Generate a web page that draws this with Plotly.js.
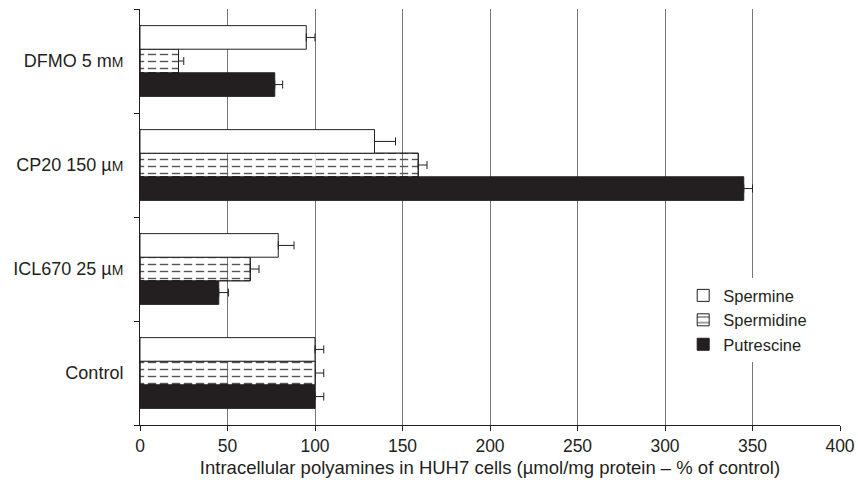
<!DOCTYPE html>
<html><head><meta charset="utf-8">
<script src="https://cdn.plot.ly/plotly-3.0.1.min.js"></script>
<style>body{margin:0;background:#fff}#c{width:858px;height:488px}</style>
</head><body><div id="c"></div>
<script>
const categories = ['Control', 'ICL670 25 µ<span style="font-size:14px">M</span>', 'CP20 150 µ<span style="font-size:14px">M</span>', 'DFMO 5 m<span style="font-size:14px">M</span>'];
const putrescine = [100, 45, 345, 77];
const putrescineErr = [5, 5.5, 5, 4.5];
const spermidine = [100, 63, 159, 22];
const spermidineErr = [5, 5, 5, 3];
const spermine = [100, 79, 134, 95];
const spermineErr = [5, 9, 12, 5];
const xTicks = [0, 50, 100, 150, 200, 250, 300, 350, 400];

const ink = '#231f20';
const clear = 'rgba(0,0,0,0)';
function errs(a){return {type:'data', symmetric:false, array:a, arrayminus:a.map(()=>0), color:ink, thickness:1, width:4};}
const traces = [
  {type:'bar', orientation:'h', name:'Putrescine', offsetgroup:'a', y:categories, x:putrescine, error_x:errs(putrescineErr),
   marker:{color:ink, line:{color:ink, width:1}}},
  {type:'bar', orientation:'h', name:'Spermidine', offsetgroup:'b', y:categories, x:spermidine, error_x:errs(spermidineErr),
   marker:{color:clear, line:{color:ink, width:1}, pattern:{shape:'-', fgcolor:'#555', bgcolor:clear, fillmode:'replace', size:7, solidity:0.2}}},
  {type:'bar', orientation:'h', name:'Spermidine dashes', offsetgroup:'b', showlegend:false, y:categories, x:spermidine,
   marker:{color:clear, line:{color:ink, width:1}, pattern:{shape:'|', fgcolor:'#ffffff', bgcolor:clear, fillmode:'replace', size:12, solidity:0.3}}},
  {type:'bar', orientation:'h', name:'Spermine', offsetgroup:'c', y:categories, x:spermine, error_x:errs(spermineErr),
   marker:{color:'#ffffff', line:{color:ink, width:1}}}
];
const layout = {
  width:858, height:488,
  margin:{l:140, r:18, t:9, b:63},
  paper_bgcolor:'#fff', plot_bgcolor:'#fff',
  font:{family:'Liberation Sans, Arial, sans-serif', size:18, color:ink},
  barmode:'group', bargap:0.32, bargroupgap:0,
  showlegend:true,
  legend:{traceorder:'reversed', x:0.776, y:0.353, xanchor:'left', yanchor:'top', bgcolor:'rgba(255,255,255,1)', font:{size:16.5}, itemwidth:30, tracegroupgap:0},
  xaxis:{range:[0,400], tickvals:xTicks, ticktext:xTicks.map(String), showgrid:true, gridcolor:'#777', gridwidth:1,
    showline:true, linecolor:ink, linewidth:1, ticks:'outside', ticklen:5, tickcolor:ink, zeroline:false, tickfont:{size:17.5},
    title:{text:'Intracellular polyamines in HUH7 cells (µmol/mg protein – % of control)', font:{size:18.5}, standoff:6}},
  yaxis:{type:'category', showline:true, linecolor:ink, linewidth:1, ticks:'outside', tickson:'boundaries', ticklen:5, tickcolor:ink,
    showgrid:false, zeroline:false, ticklabelstandoff:12, tickfont:{size:18}}
};
Plotly.newPlot('c', traces, layout, {displayModeBar:false, staticPlot:true});
</script></body></html>
